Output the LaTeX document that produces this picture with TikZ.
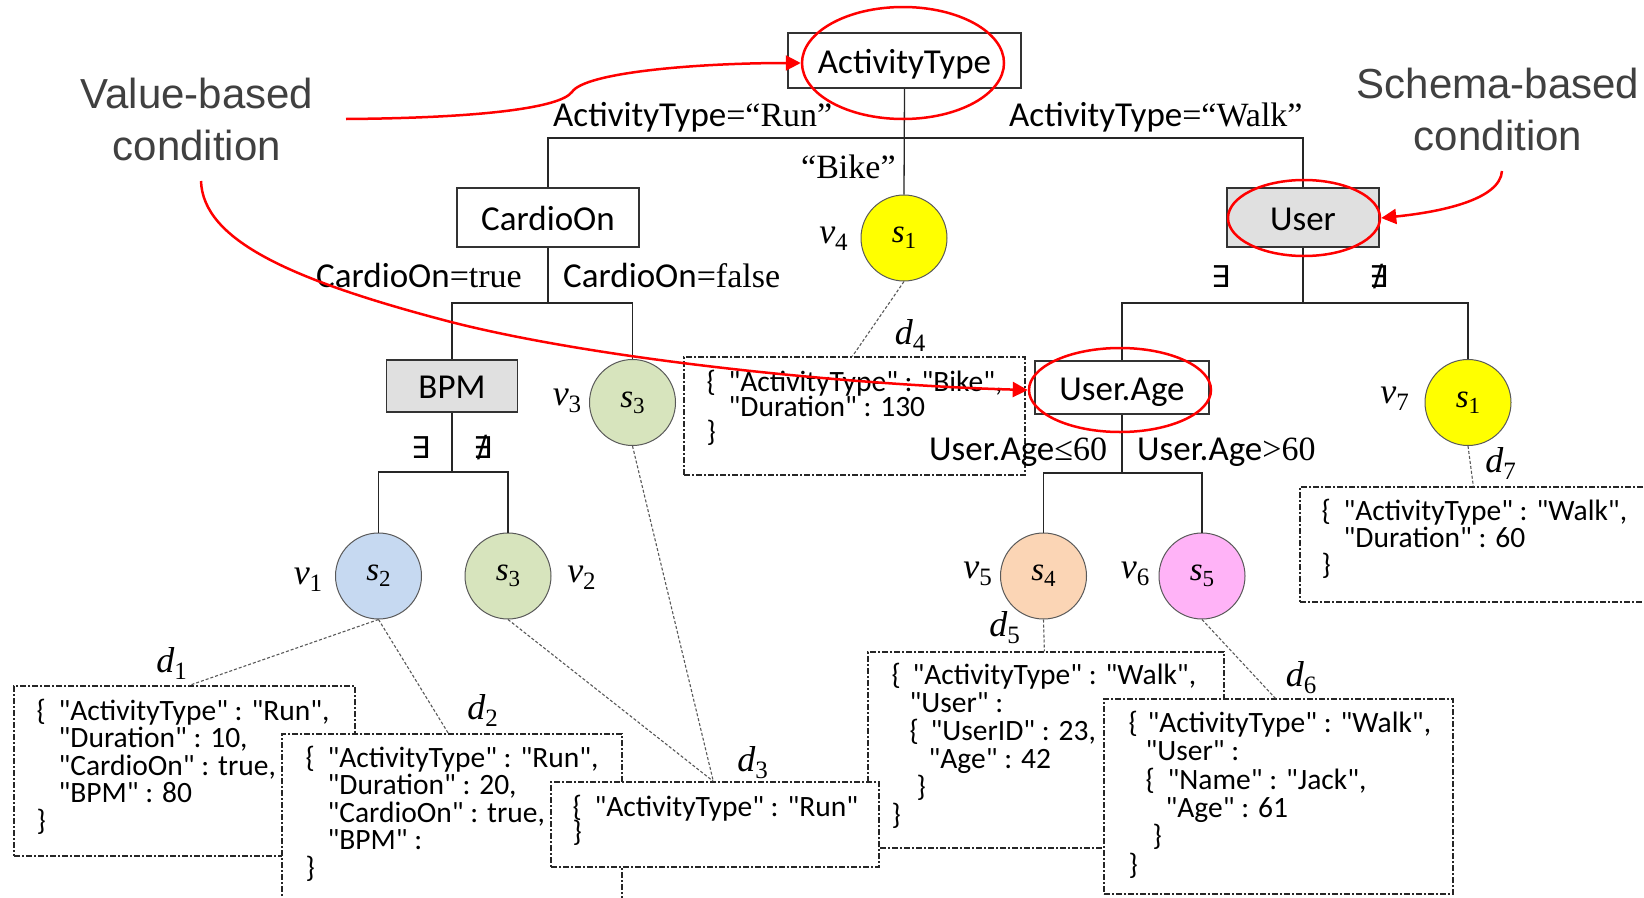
\documentclass[tikz,border=0pt]{standalone}
\usepackage{fontspec}
\usetikzlibrary{shapes.geometric,arrows.meta,calc}
\setmainfont{Carlito}
\newfontfamily\jsf{Carlito}[Ligatures=TeXOff]
\newfontfamily\tms{Liberation Serif}
\newfontfamily\ars{Liberation Sans}
\newfontfamily\dvs{DejaVu Sans}
\definecolor{anngray}{HTML}{404040}
\definecolor{boxgray}{HTML}{E0E0E0}
\definecolor{cblue}{HTML}{C6D9F1}
\definecolor{cgreen}{HTML}{D7E4BD}
\definecolor{cyellow}{HTML}{FFFF00}
\definecolor{cpeach}{HTML}{FBD5B5}
\definecolor{cpink}{HTML}{FFB3F7}
\newcommand\stk[2]{\vtop{\baselineskip=#1\lineskiplimit=-1000pt\lineskip=0pt #2}}
\newcommand\jsn{\jsf\fontsize{29.5}{27.5}\selectfont}
\newcommand\lbl{\fontsize{35}{38}\selectfont}
\newcommand\srf{\tms\fontsize{34}{36}\selectfont}
\newcommand\mlab[2]{{\tms\fontsize{36}{36}\selectfont\itshape #1\raisebox{-7pt}{\upshape\fontsize{25}{25}\selectfont #2}}}
\newcommand\slab[2]{{\tms\fontsize{33}{33}\selectfont\itshape #1\raisebox{-6pt}{\upshape\fontsize{23}{23}\selectfont #2}}}
\tikzset{
  attr/.style={draw=black!80, line width=1.3pt, font=\lbl, inner sep=0pt, text height=25pt, text depth=0pt},
  treeline/.style={line width=1.3pt, black!85},
  docbox/.style={draw=black!85, fill=white, line width=1.3pt, dash pattern=on 6pt off 2pt on 2pt off 2pt, inner sep=0pt},
  leaf/.style={circle, draw=black!65, line width=1pt, minimum size=86pt, inner sep=0pt},
  link/.style={black!65, line width=1.1pt, dash pattern=on 3pt off 2pt},
  redring/.style={ellipse, draw=red, line width=2.5pt, inner sep=0pt},
  redarrow/.style={red, line width=2.5pt, -{Triangle[length=15pt,width=15pt]}},
  jtext/.style={anchor=base west, inner sep=0pt, font=\jsn},
  elabel/.style={anchor=base west, inner sep=0pt},
  exs/.style={font={\dvs\fontsize{30}{30}\selectfont}, inner sep=0pt},
  ann/.style={anchor=base, inner sep=0pt, text=anngray, font={\ars\fontsize{42}{52}\selectfont}}
}
\begin{document}
\begin{tikzpicture}[x=1pt,y=-1pt]
\useasboundingbox[fill=white] (0,0) rectangle (1644,897);
\clip (0,0) rectangle (1644,897);

% annotations
\node[ann] (valtxt) at (197,108) {\stk{52pt}{\hbox to 0pt{\hss Value-based\hss}\hbox to 0pt{\hss condition\hss}}};
\node[ann] (schtxt) at (1498,98) {\stk{52pt}{\hbox to 0pt{\hss Schema-based\hss}\hbox to 0pt{\hss condition\hss}}};

% tree nodes
\node[attr, minimum width=233pt, minimum height=55pt] (AT) at (904.5,60.5) {ActivityType};
\node[attr, minimum width=182pt, minimum height=59pt] (CO) at (548,217.5) {CardioOn};
\node[attr, fill=boxgray, minimum width=152pt, minimum height=59pt] (US) at (1303,217.5) {User};
\node[attr, fill=boxgray, minimum width=131pt, minimum height=52pt] (BPM) at (452,386) {BPM};
\node[attr, minimum width=174pt, minimum height=53pt] (UA) at (1122,387.5) {User.Age};

\node[leaf, fill=cyellow] (v4) at (904,238) {\slab{s}{1}};
\node[leaf, fill=cgreen] (v3) at (632.5,402.5) {\slab{s}{3}};
\node[leaf, fill=cblue] (v1) at (378.5,576) {\slab{s}{2}};
\node[leaf, fill=cgreen] (v2) at (508,576) {\slab{s}{3}};
\node[leaf, fill=cpeach] (v5) at (1043.5,576) {\slab{s}{4}};
\node[leaf, fill=cpink] (v6) at (1202,576) {\slab{s}{5}};
\node[leaf, fill=cyellow] (v7) at (1468,402.5) {\slab{s}{1}};

% bars
\coordinate (y1) at (0,138);
\coordinate (y2) at (0,303);
\coordinate (y3) at (0,472);
\coordinate (y5) at (0,473);
\draw[treeline] (AT.south) -- (v4.north);
\draw[treeline] (AT.south |- y1) -| (CO.north);
\draw[treeline] (AT.south |- y1) -| (US.north);
\draw[treeline] (CO.south) -- (CO.south |- y2) -| (BPM.north);
\draw[treeline] (CO.south |- y2) -| (v3.north);
\draw[treeline] (BPM.south) -- (BPM.south |- y3) -| (v1.north);
\draw[treeline] (BPM.south |- y3) -| (v2.north);
\draw[treeline] (US.south) -- (US.south |- y2) -| (UA.north);
\draw[treeline] (US.south |- y2) -| (v7.north);
\draw[treeline] (UA.south) -- (UA.south |- y5) -| (v5.north);
\draw[treeline] (UA.south |- y5) -| (v6.north);

% edge labels
\node[elabel] (lrun) at (553,126) {\lbl ActivityType\srf=“Run”};
\node[elabel] (lwalk) at (1009,126) {\lbl ActivityType\srf=“Walk”};
\node[elabel] (lbike) at (801,178) {\srf “Bike”};
\node[elabel] (ltrue) at (316,287) {\lbl CardioOn\srf=true};
\node[elabel] (lfalse) at (563,287) {\lbl CardioOn\srf=false};
\node[exs] (e1) at (421,447.5) {∃};
\node[exs] (ne1) at (482.5,447.5) {∄};
\node[exs] (e2) at (1220.5,277) {∃};
\node[exs] (ne2) at (1378.5,277) {∄};

% vertex labels
\node (lv1) at (308,580) {\mlab{v}{1}};
\node (lv2) at (581.5,578) {\mlab{v}{2}};
\node (lv3) at (567,401) {\mlab{v}{3}};
\node (lv4) at (833.5,239) {\mlab{v}{4}};
\node (lv5) at (977.5,574) {\mlab{v}{5}};
\node (lv6) at (1135,574) {\mlab{v}{6}};
\node (lv7) at (1394.5,399) {\mlab{v}{7}};

% document boxes
\node[docbox, minimum width=341pt, minimum height=118pt] (d4) at (854.5,416) {};
\node[jtext] (t4) at ($(d4.north west)+(23,35)$) {\stk{25pt}{\hbox{\makebox[22pt][l]{\{}"ActivityType" : "Bike",}\hbox{\hspace*{22pt}"Duration" : 130}\hbox{\}}}};
\node[docbox, minimum width=360pt, minimum height=115pt] (d7) at (1480,544.5) {};
\node[jtext] (t7) at ($(d7.north west)+(22,34)$) {\stk{27pt}{\hbox{\makebox[22pt][l]{\{}"ActivityType" : "Walk",}\hbox{\hspace*{22pt}"Duration" : 60}\hbox{\}}}};

\node[docbox, minimum width=341pt, minimum height=170pt] (d1) at (184.5,771) {};
\node[jtext] (t1) at ($(d1.north west)+(23,35)$) {\stk{27.5pt}{\hbox{\makebox[22pt][l]{\{}"ActivityType" : "Run",}\hbox{\hspace*{22pt}"Duration" : 10,}\hbox{\hspace*{22pt}"CardioOn" : true,}\hbox{\hspace*{22pt}"BPM" : 80}\hbox{\}}}};
\node[docbox, minimum width=340pt, minimum height=176pt] (d2) at (452,822) {};
\node[jtext] (t2) at ($(d2.north west)+(24,34)$) {\stk{27.5pt}{\hbox{\makebox[22pt][l]{\{}"ActivityType" : "Run",}\hbox{\hspace*{22pt}"Duration" : 20,}\hbox{\hspace*{22pt}"CardioOn" : true,}\hbox{\hspace*{22pt}"BPM" :}\hbox{\}}}};
\node[docbox, minimum width=356pt, minimum height=196pt] (d5) at (1046,750) {};
\node[jtext] (t5) at ($(d5.north west)+(24,33)$) {\stk{28pt}{\hbox{\makebox[21pt][l]{\{}"ActivityType" : "Walk",}\hbox{\hspace*{18pt}"User" :}\hbox{\hspace*{18pt}\makebox[21pt][l]{\{}"UserID" : 23,}\hbox{\hspace*{37pt}"Age" : 42}\hbox{\hspace*{25pt}\}}\hbox{\}}}};
\node[docbox, minimum width=328pt, minimum height=85pt] (d3) at (715,824.5) {};
\node[jtext] (t3) at ($(d3.north west)+(22,35)$) {\stk{25pt}{\hbox{\makebox[22pt][l]{\{}"ActivityType" : "Run"}\hbox{\}}}};
\node[docbox, minimum width=349pt, minimum height=195pt] (d6) at (1278.5,796.5) {};
\node[jtext] (t6) at ($(d6.north west)+(25,34)$) {\stk{28.4pt}{\hbox{\makebox[19pt][l]{\{}"ActivityType" : "Walk",}\hbox{\hspace*{17pt}"User" :}\hbox{\hspace*{17pt}\makebox[22pt][l]{\{}"Name" : "Jack",}\hbox{\hspace*{37pt}"Age" : 61}\hbox{\hspace*{24pt}\}}\hbox{\}}}};

% links
\draw[link] (v1.south) -- ($(d1.north west)+(176,0)$);
\draw[link] (v1.south) -- ($(d2.north west)+(167,0)$);
\draw[link] (v2.south) -- ($(d3.north west)+(163,0)$);
\draw[link] (v3.south) -- ($(d3.north west)+(163,0)$);
\draw[link] (v4.south) -- ($(d4.north west)+(169,0)$);
\draw[link] (v5.south) -- ($(d5.north west)+(177,0)$);
\draw[link] (v6.south) -- ($(d6.north west)+(172,0)$);
\draw[link] (v7.south) -- ($(d7.north west)+(174,0)$);

% doc labels
\node (ld1) at (171.5,664) {\mlab{d}{1}};
\node (ld2) at (482.5,711) {\mlab{d}{2}};
\node (ld3) at (752.5,762.5) {\mlab{d}{3}};
\node (ld4) at (910,336) {\mlab{d}{4}};
\node (ld5) at (1004.5,628) {\mlab{d}{5}};
\node (ld6) at (1301,677.5) {\mlab{d}{6}};
\node (ld7) at (1500.5,464) {\mlab{d}{7}};

\node[elabel] (lle) at (929,460) {\lbl User.Age\srf≤60};
\node[elabel] (lgt) at (1137,460) {\lbl User.Age\srf>60};

% red highlights
\node[redring, minimum width=202pt, minimum height=112pt] (E1) at (903,63) {};
\node[redring, minimum width=152pt, minimum height=76pt] (E2) at (1304,218) {};
\node[redring, minimum width=182pt, minimum height=84pt] (E3) at (1120,390) {};
\coordinate (a1) at (346,119);
\coordinate (a2) at (201,181);
\coordinate (a3) at (1502,171);
\draw[redarrow] (a1) .. controls (480,118) and (560,108) .. (572,92) .. controls (585,72) and (700,63) .. (E1.west);
\draw[redarrow] (a2) .. controls (203,240) and (290,280) .. (451,322) .. controls (600,360) and (850,385) .. (E3.west);
\draw[redarrow] (a3) .. controls (1500,200) and (1440,212) .. (E2.east);
\end{tikzpicture}
\end{document}
